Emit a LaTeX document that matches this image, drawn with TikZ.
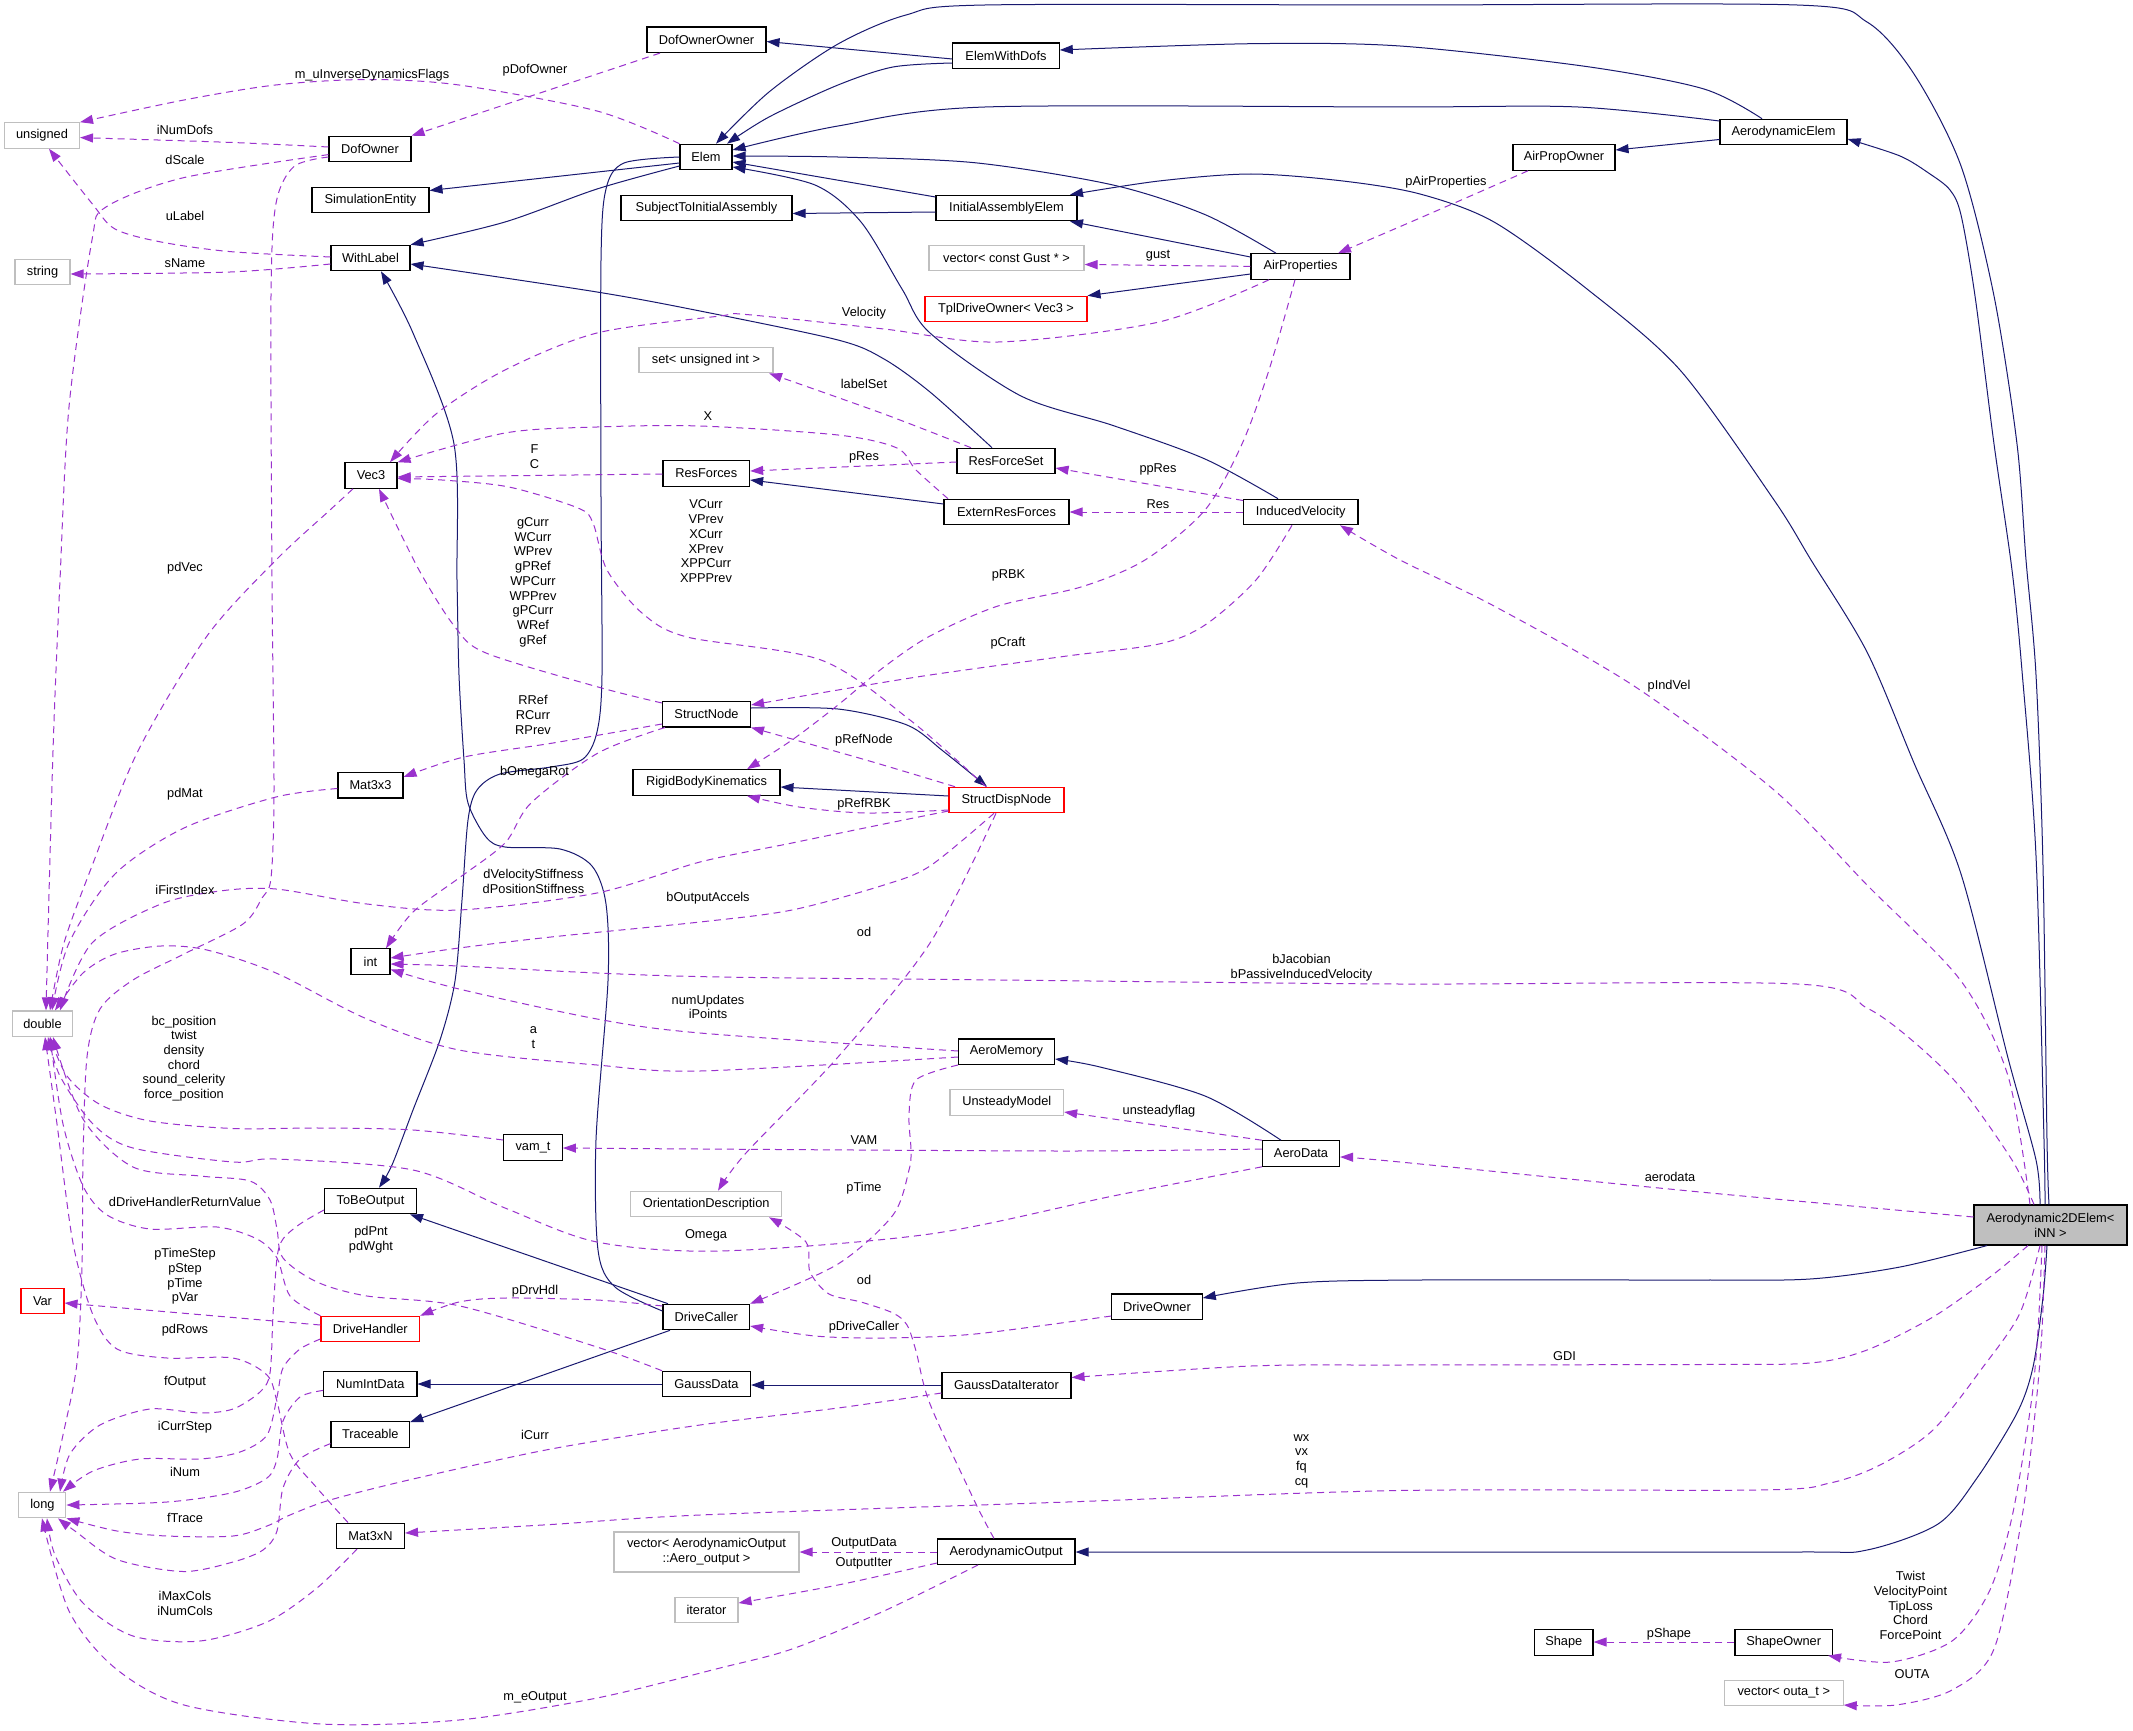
\documentclass[tikz,border=0pt]{standalone}
\usepackage{fontspec}
\setmainfont{Liberation Sans}
\usetikzlibrary{arrows.meta,calc}
\definecolor{edgeblue}{HTML}{191970}
\definecolor{edgepurple}{HTML}{9A32CD}
\definecolor{nodegray}{HTML}{BFBFBF}
\newcommand\lbfont{\fontsize{12.8}{14.7}\selectfont}
\tikzset{
 box/.style={draw=black, line width=1.1pt, fill=white, minimum height=25.5, inner sep=0pt, font=\lbfont, align=center},
 gbox/.style={box, draw=nodegray},
 rbox/.style={box, draw=red},
 inh/.style={draw=edgeblue, line width=1pt, -{Triangle[length=13pt,width=9pt]}},
 dep/.style={draw=edgepurple, line width=1pt, dash pattern=on 7pt off 5pt, -{Triangle[length=13pt,width=9pt]}},
 lbl/.style={font=\lbfont, align=center, inner sep=0pt},
}
\begin{document}
\begin{tikzpicture}[x=1pt,y=-1pt]
\fill[white] (0,0) rectangle (2133,1731);
\useasboundingbox (0,0) rectangle (2133,1731);
% ---------- nodes
\node[box, minimum width=119] (DofOwnerOwner) at (706.5,39.8) {DofOwnerOwner};
\node[box, minimum width=106.5] (ElemWithDofs) at (1006,55.8) {ElemWithDofs};
\node[box, minimum width=52] (Elem) at (706,157) {Elem};
\node[box, minimum width=127] (AerodynamicElem) at (1783.5,132) {AerodynamicElem};
\node[box, minimum width=102] (AirPropOwner) at (1564,157.5) {AirPropOwner};
\node[gbox, minimum width=75] (unsigned) at (42,135.5) {unsigned};
\node[box, minimum width=82] (DofOwner) at (370,149) {DofOwner};
\node[box, minimum width=117] (SimulationEntity) at (370.5,200) {SimulationEntity};
\node[box, minimum width=171] (SubjectToInitialAssembly) at (706.5,208) {SubjectToInitialAssembly};
\node[box, minimum width=141] (InitialAssemblyElem) at (1006.5,208) {InitialAssemblyElem};
\node[box, minimum width=79] (WithLabel) at (370.5,258) {WithLabel};
\node[gbox, minimum width=55] (string) at (42.5,272) {string};
\node[gbox, minimum width=155] (vgust) at (1006.5,258) {vector< const Gust * >};
\node[box, minimum width=99] (AirProperties) at (1300.5,266.5) {AirProperties};
\node[rbox, minimum width=162] (tpl) at (1006,309) {TplDriveOwner< Vec3 >};
\node[gbox, minimum width=134] (setui) at (706,360) {set< unsigned int >};
\node[box, minimum width=52] (Vec3) at (371,475.5) {Vec3};
\node[box, minimum width=86.6] (ResForces) at (706.3,473.5) {ResForces};
\node[box, minimum width=98] (ResForceSet) at (1006,461) {ResForceSet};
\node[box, minimum width=125] (ExternResForces) at (1006.5,512) {ExternResForces};
\node[box, minimum width=114.4] (InducedVelocity) at (1300.8,512) {InducedVelocity};
\node[box, minimum width=88] (StructNode) at (706.5,714.2) {StructNode};
\node[box, minimum width=65] (Mat3x3) at (370.5,785.2) {Mat3x3};
\node[box, minimum width=147] (RigidBodyKinematics) at (706.5,782.5) {RigidBodyKinematics};
\node[rbox, minimum width=115] (StructDispNode) at (1006.5,800) {StructDispNode};
\node[box, minimum width=39] (int) at (370.5,961.5) {int};
\node[gbox, minimum width=60] (double) at (42.5,1023.7) {double};
\node[box, minimum width=96] (AeroMemory) at (1006.5,1051.7) {AeroMemory};
\node[gbox, minimum width=113.6] (UnsteadyModel) at (1006.8,1102.5) {UnsteadyModel};
\node[box, minimum width=58.7] (vamt) at (533,1147.5) {vam\_t};
\node[box, minimum width=77] (AeroData) at (1301,1153.5) {AeroData};
\node[gbox, minimum width=151] (OrientationDescription) at (706.2,1204) {OrientationDescription};
\node[box, minimum width=92] (ToBeOutput) at (370.5,1201) {ToBeOutput};
\node[box, fill=nodegray, minimum width=153, minimum height=40] (Aero2D) at (2050.5,1225) {Aerodynamic2DElem<\\iNN >};
\node[rbox, minimum width=43] (Var) at (42.5,1301) {Var};
\node[rbox, minimum width=98.7] (DriveHandler) at (370.3,1329) {DriveHandler};
\node[box, minimum width=86.6] (DriveCaller) at (706.3,1317) {DriveCaller};
\node[box, minimum width=90.5] (DriveOwner) at (1157,1306.7) {DriveOwner};
\node[box, minimum width=93.3] (NumIntData) at (370.3,1384) {NumIntData};
\node[box, minimum width=88] (GaussData) at (706.5,1384) {GaussData};
\node[box, minimum width=129] (GaussDataIterator) at (1006.5,1385.4) {GaussDataIterator};
\node[box, minimum width=78.6] (Traceable) at (370.3,1434.4) {Traceable};
\node[gbox, minimum width=47] (long) at (42.4,1505) {long};
\node[box, minimum width=68] (Mat3xN) at (370.5,1535.8) {Mat3xN};
\node[gbox, minimum width=185, minimum height=40] (vaero) at (706.5,1552) {vector< AerodynamicOutput\\::Aero\_output >};
\node[box, minimum width=137.6] (AerodynamicOutput) at (1006.2,1551.7) {AerodynamicOutput};
\node[gbox, minimum width=63] (iterator) at (706.5,1610) {iterator};
\node[box, minimum width=58.4] (Shape) at (1563.8,1642.3) {Shape};
\node[box, minimum width=97.4] (ShapeOwner) at (1783.7,1642.3) {ShapeOwner};
\node[gbox, minimum width=118.8] (voutat) at (1783.8,1693) {vector< outa\_t >};
% ---------- solid (inheritance) edges
\draw[inh] (ElemWithDofs.west |- 0,59) -- (DofOwnerOwner.east |- 0,41.5);
\draw[inh] plot[smooth] coordinates {(ElemWithDofs.west |- 0,63) (893,67) (838,85) (769,117) (Elem.north -| 727,0)};
\draw[inh] plot[smooth] coordinates {(Aero2D.north -| 2049,0) (2047,1140) (2043,866) (2036,675) (2026,560) (2017,444) (1994,296) (1961,166) (1914,74) (1867,22) (1797,5) (1400,5) (985,5) (906,15) (838,44) (769,92) (Elem.north -| 716,0)};
\draw[inh] plot[smooth] coordinates {(Aero2D.north -| 2045,0) (2044,1140) (2036,856) (2022,671) (2012,570) (1994,444) (1975,296) (1961,215) (1950,190) (1930,174) (1900,156) (AerodynamicElem.east |- 0,139)};
\draw[inh] (AerodynamicElem.west |- 0,139.5) -- (AirPropOwner.east |- 0,150);
\draw[inh] plot[smooth] coordinates {(AerodynamicElem.north -| 1762,0) (1704,89) (1587,66.6) (1400,46) (1251,43.7) (ElemWithDofs.east |- 0,50)};
\draw[inh] plot[smooth] coordinates {(AerodynamicElem.west |- 0,121) (1578,107) (1400,107) (985,107) (838,126) (Elem.east |- 0,150)};
\draw[inh] (InitialAssemblyElem.west |- 0,197) -- (Elem.east |- 0,162);
\draw[inh] (InitialAssemblyElem.west |- 0,212) -- (SubjectToInitialAssembly.east |- 0,213.5);
\draw[inh] (AirProperties.west |- 0,257) -- (InitialAssemblyElem.south -| 1070,0);
\draw[inh] plot[smooth] coordinates {(AirProperties.north -| 1276,0) (1205,214.6) (1113,185) (975.5,162.8) (837.7,157) (Elem.east |- 0,156)};
\draw[inh] plot[smooth] coordinates {(Aero2D.north -| 2040,0) (2036,1160) (2008,1058) (1961,874) (1914,763) (1867,652) (1811,560) (1774,500) (1680,370) (1587,289) (1494,222) (1420,194) (1343,181) (1251,174) (1159,181) (InitialAssemblyElem.north -| 1070,0)};
\draw[inh] (AirProperties.west |- 0,274) -- (tpl.north east);
\draw[inh] plot[smooth] coordinates {(InducedVelocity.north -| 1278,0) (1205,459) (1113,425.5) (1021,396) (930,333) (902,289) (861,222) (815,185) (Elem.east |- 0,167)};
\draw[inh] plot[smooth] coordinates {(ResForceSet.north -| 992,0) (930,392) (884,359) (838,340) (700,311) (597,292) (WithLabel.east |- 0,264)};
\draw[inh] (Elem.west |- 0,163) -- (SimulationEntity.east |- 0,190.5);
\draw[inh] plot[smooth] coordinates {(Elem.west |- 0,166) (597,189) (505,222) (WithLabel.north east)};
\draw[inh] plot[smooth] coordinates {(Elem.west |- 0,157) (624,163) (606,189) (601,260) (601,500) (602,675) (597,732) (583,759) (551,767) (500,774) (477,790) (468,820) (462,900) (455,981) (440,1040) (413,1110) (392,1165) (ToBeOutput.north -| 379,0)};
\draw[inh] plot[smooth] coordinates {(DriveCaller.west |- 0,1311) (615,1287) (598,1250) (596,1140) (608,981) (606,904) (592,866) (560,849) (505,847) (486,837) (468,803) (464,760) (459,675) (457,580) (454,444) (413,333) (WithLabel.south -| 381,0)};
\draw[inh] (ExternResForces.west |- 0,504) -- (ResForces.east |- 0,480);
\draw[inh] plot[smooth] coordinates {(StructNode.east |- 0,708) (838,709) (907,725) (943,751) (StructDispNode.north -| 987,0)};
\draw[inh] (StructDispNode.west |- 0,796) -- (RigidBodyKinematics.east |- 0,787);
\draw[inh] plot[smooth] coordinates {(AeroData.north -| 1281,0) (1205,1096) (1100,1067) (AeroMemory.east |- 0,1059)};
\draw[inh] (DriveCaller.north -| 668,0) -- (ToBeOutput.south -| 410,0);
\draw[inh] (DriveCaller.south -| 670,0) -- (Traceable.east |- 0,1422);
\draw[inh] (GaussData.west |- 0,1384) -- (NumIntData.east |- 0,1384);
\draw[inh] (GaussDataIterator.west |- 0,1385) -- (GaussData.east |- 0,1385);
\draw[inh] plot[smooth] coordinates {(Aero2D.south -| 1987,0) (1900,1267) (1810,1279) (1700,1280) (1420,1280) (1297,1283) (DriveOwner.east |- 0,1298)};
\draw[inh] plot[smooth] coordinates {(Aero2D.south -| 2047,0) (2043,1297) (2033,1367) (2017,1413) (1977,1478) (1938,1524) (1867,1550) (1797,1552) (1400,1552) (AerodynamicOutput.east |- 0,1552)};
% ---------- dashed (usage) edges
\draw[dep] plot[smooth] coordinates {(Elem.north west) (597,111) (459,85) (367,79.5) (275.5,85) (184,100) (unsigned.north east)};
\draw[dep] (DofOwnerOwner.south -| 660,0) -- (DofOwner.north east);
\draw[dep] plot[smooth] coordinates {(DofOwner.west |- 0,147) (230,142.4) (unsigned.east |- 0,137.6)};
\draw[dep] plot[smooth] coordinates {(DofOwner.west |- 0,154.6) (184,177.6) (106,207) (92,240) (69,407) (60,580) (53,751) (double.north -| 46,0)};
\draw[dep] plot[smooth] coordinates {(DofOwner.west |- 0,157) (294,166.5) (276,203.5) (271,296) (272,580) (274,790) (271,878) (262,898) (243,924) (184,954) (133,980) (100,1009) (87,1057) (83,1160) (82,1267) (77,1363) (63,1435) (long.north -| 50,0)};
\draw[dep] plot[smooth] coordinates {(WithLabel.west |- 0,257) (230,251.6) (161,242) (115,229) (92,203.5) (unsigned.south -| 49,0)};
\draw[dep] plot[smooth] coordinates {(WithLabel.west |- 0,264) (230,272) (string.east |- 0,274)};
\draw[dep] (AirProperties.west |- 0,266.4) -- (vgust.east |- 0,264.5);
\draw[dep] plot[smooth] coordinates {(AirProperties.south -| 1269,0) (1159,322) (998,342) (884,329) (746,314.5) (720,316) (597,333) (505,370) (436,414) (Vec3.north -| 390,0)};
\draw[dep] plot[smooth] coordinates {(ResForceSet.north -| 971,0) (884,414) (setui.south -| 769,0)};
\draw[dep] plot[smooth] coordinates {(ExternResForces.north -| 948,0) (916,470) (897,448) (838,435) (700,426) (597,427) (505,433) (Vec3.north east)};
\draw[dep] (ResForces.west |- 0,474) -- (Vec3.east |- 0,477);
\draw[dep] (ResForceSet.west |- 0,462) -- (ResForces.east |- 0,471);
\draw[dep] (InducedVelocity.west |- 0,500.5) -- (ResForceSet.east |- 0,468);
\draw[dep] (InducedVelocity.west |- 0,512) -- (ExternResForces.east |- 0,512);
\draw[dep] plot[smooth] coordinates {(AirProperties.south -| 1295,0) (1269,370) (1242,444) (1205,510) (1145,560) (1081,587) (998,606) (930,636) (884,667) (838,705) (792,740) (RigidBodyKinematics.north -| 747,0)};
\draw[dep] plot[smooth] coordinates {(InducedVelocity.south -| 1292,0) (1256,580) (1205,625) (1159,644) (1067,656) (930,675) (838,690) (StructNode.east |- 0,705)};
\draw[dep] plot[smooth] coordinates {(Aero2D.north -| 2030,0) (2008,1076) (1961,981) (1867,885) (1774,790) (1634,686) (1494,606) (1400,560) (InducedVelocity.south -| 1340,0)};
\draw[dep] plot[smooth] coordinates {(Aero2D.north -| 2034,0) (2012,1160) (1961,1088) (1914,1042) (1867,1008) (1797,984) (1400,984) (1000,980) (720,977) (597,973) (459,966) (int.east |- 0,964)};
\draw[dep] plot[smooth] coordinates {(StructNode.west |- 0,703) (598,687) (486,653) (455,627) (419,570) (Vec3.south -| 379,0)};
\draw[dep] plot[smooth] coordinates {(StructDispNode.north -| 986,0) (910,720) (821,660) (687,637) (642,613) (607,570) (593,523) (578,508) (509,487) (442,480) (Vec3.east |- 0,478.5)};
\draw[dep] plot[smooth] coordinates {(StructNode.west |- 0,724) (553,743) (464,757) (Mat3x3.east |- 0,777)};
\draw[dep] plot[smooth] coordinates {(StructNode.south -| 665,0) (598,753) (531,803) (505,843) (459,878) (413,912) (int.north -| 386,0)};
\draw[dep] plot[smooth] coordinates {(StructDispNode.north -| 955,0) (866,760) (StructNode.south east)};
\draw[dep] plot[smooth] coordinates {(StructDispNode.west |- 0,810) (866,813) (799,807) (RigidBodyKinematics.south -| 747,0)};
\draw[dep] plot[smooth] coordinates {(StructDispNode.west |- 0,811) (884,824) (792,843) (700,862) (597,893) (459,910) (367,904) (276,889) (220,891) (161,904) (92,943) (double.north -| 60,0)};
\draw[dep] plot[smooth] coordinates {(StructDispNode.south -| 994,0) (930,866) (884,885) (792,910) (700,922) (551,937) (459,948) (int.east |- 0,958)};
\draw[dep] plot[smooth] coordinates {(StructDispNode.south -| 996,0) (930,943) (838,1057) (746,1153) (OrientationDescription.north -| 718,0)};
\draw[dep] plot[smooth] coordinates {(AeroMemory.west |- 0,1051) (700,1033) (597,1019) (459,989) (int.east |- 0,969.5)};
\draw[dep] plot[smooth] coordinates {(AeroMemory.west |- 0,1057) (700,1071) (597,1065) (459,1050) (367,1019) (276,973) (207,950) (161,946) (115,954) (83,973) (double.north -| 55,0)};
\draw[dep] plot[smooth] coordinates {(AeroMemory.south west) (916,1080) (909,1115) (911,1150) (909,1170) (893,1215) (838,1264) (DriveCaller.north east)};
\draw[dep] plot[smooth] coordinates {(AeroData.west |- 0,1149) (1067,1151) (700,1149) (vamt.east |- 0,1148)};
\draw[dep] (AeroData.north west) -- (UnsteadyModel.east |- 0,1112);
\draw[dep] plot[smooth] coordinates {(AeroData.south west) (1113,1196) (930,1234) (720,1251) (597,1242) (505,1208) (413,1170) (276,1159) (233,1162) (133,1148) (93,1124) (60,1076) (double.south -| 48,0)};
\draw[dep] plot[smooth] coordinates {(Aero2D.west |- 0,1217) (1700,1192) (1400,1162) (AeroData.east |- 0,1157)};
\draw[dep] plot[smooth] coordinates {(DriveCaller.west |- 0,1306) (597,1300) (505,1298) (459,1302) (DriveHandler.north east)};
\draw[dep] plot[smooth] coordinates {(GaussData.north west) (597,1347) (460,1306) (367,1296) (317,1282) (283,1258) (277,1229) (270,1200) (250,1181) (200,1176) (133,1167) (83,1119) (double.south -| 53,0)};
\draw[dep] plot[smooth] coordinates {(DriveHandler.north west) (290,1296) (277,1258) (257,1239) (217,1227) (150,1229) (107,1215) (83,1186) (63,1124) (double.south -| 50,0)};
\draw[dep] (DriveHandler.west |- 0,1325) -- (Var.east |- 0,1303);
\draw[dep] plot[smooth] coordinates {(Mat3xN.north -| 348,0) (317,1488) (290,1454) (277,1401.5) (267,1375) (233,1358) (167,1358) (117,1349) (93,1315) (73,1243) (57,1124) (double.south -| 45,0)};
\draw[dep] plot[smooth] coordinates {(ToBeOutput.west |- 0,1210) (300,1224) (283,1239) (277,1258) (273,1315) (270,1373) (260,1392) (233,1409) (200,1413) (150,1409) (100,1425) (70,1454) (long.north -| 60,0)};
\draw[dep] plot[smooth] coordinates {(DriveHandler.west |- 0,1339) (300,1349) (283,1368) (277,1397) (267,1435) (240,1452) (200,1459) (140,1459) (93,1471) (long.north -| 63,0)};
\draw[dep] plot[smooth] coordinates {(NumIntData.west |- 0,1390.4) (300,1397) (283,1421) (277,1459) (267,1478) (233,1492.5) (167,1502) (long.east |- 0,1505)};
\draw[dep] plot[smooth] coordinates {(Traceable.west |- 0,1443.6) (300,1459) (283,1488) (277,1531) (263,1550) (233,1562) (183,1571.5) (117,1559.5) (75,1531) (long.south -| 58,0)};
\draw[dep] plot[smooth] coordinates {(GaussDataIterator.west |- 0,1393) (838,1408) (700,1425) (551,1449) (413,1479) (330,1500) (290,1515) (267,1526) (233,1536) (167,1536) (117,1531) (long.south east)};
\draw[dep] plot[smooth] coordinates {(Mat3xN.south -| 357,0) (317,1588) (267,1622) (200,1641) (133,1636) (83,1603) (55,1555) (long.south -| 47,0)};
\draw[dep] plot[smooth] coordinates {(AerodynamicOutput.south -| 978,0) (884,1611) (792,1649) (720,1668) (597,1698) (459,1720) (321,1724) (184,1705) (115,1668) (69,1611) (long.south -| 42,0)};
\draw[dep] plot[smooth] coordinates {(AerodynamicOutput.north -| 994,0) (975,1502) (930,1404) (916,1351) (907,1325) (893,1313) (861,1302) (829,1294) (810,1272) (806,1242) (OrientationDescription.south -| 769,0)};
\draw[dep] plot[smooth] coordinates {(DriveOwner.west |- 0,1316) (975,1334) (884,1338) (815,1336) (DriveCaller.east |- 0,1326)};
\draw[dep] plot[smooth] coordinates {(Aero2D.south -| 2028,0) (1990,1277) (1933,1317) (1867,1350) (1810,1363) (1700,1364.5) (1400,1365) (1251,1366) (GaussDataIterator.east |- 0,1377.5)};
\draw[dep] plot[smooth] coordinates {(Aero2D.south -| 2040,0) (2020,1313) (1983,1367) (1933,1430) (1880,1465) (1830,1483) (1760,1490) (1400,1490.5) (1067,1502) (700,1515) (551,1524.5) (Mat3xN.east |- 0,1533)};
\draw[dep] (AerodynamicOutput.west |- 0,1552) -- (vaero.east |- 0,1552);
\draw[dep] plot[smooth] coordinates {(AerodynamicOutput.west |- 0,1563) (838,1585) (iterator.east |- 0,1603)};
\draw[dep] (ShapeOwner.west |- 0,1642) -- (Shape.east |- 0,1642);
\draw[dep] plot[smooth] coordinates {(Aero2D.south -| 2042,0) (2038,1330) (2031,1404) (2012,1517) (1989,1592) (1952,1641) (1891,1662) (ShapeOwner.south -| 1828,0)};
\draw[dep] plot[smooth] coordinates {(Aero2D.south -| 2045,0) (2042,1330) (2036,1404) (2022,1517) (1994,1649) (1952,1690) (1896,1705) (voutat.east |- 0,1705)};
\draw[dep] plot[smooth] coordinates {(AirPropOwner.south -| 1528,0) (1420,218) (AirProperties.north -| 1338,0)};
\draw[dep] plot[smooth] coordinates {(Vec3.south -| 353,0) (330,510) (276,560) (207,636) (138,751) (92,866) (64,943) (double.north -| 50,0)};
\draw[dep] plot[smooth] coordinates {(Mat3x3.west |- 0,788.5) (276,797) (184,828) (115,874) (69,943) (double.north -| 52,0)};
\draw[dep] plot[smooth] coordinates {(vamt.west |- 0,1140) (413,1130) (321,1128) (233,1128.5) (150,1121) (100,1104.5) (67,1076) (double.south -| 50,0)};
% ---------- labels
\node[lbl] (l1) at (372,75) {m\_uInverseDynamicsFlags};
\node[lbl] (l2) at (535,70) {pDofOwner};
\node[lbl] (l3) at (185,130) {iNumDofs};
\node[lbl] (l4) at (185,160) {dScale};
\node[lbl] (l5) at (185,216) {uLabel};
\node[lbl] (l6) at (185,263) {sName};
\node[lbl] (l7) at (1446,182) {pAirProperties};
\node[lbl] (l8) at (1158,256) {gust};
\node[lbl] (l9) at (864,313) {Velocity};
\node[lbl] (l10) at (864,384) {labelSet};
\node[lbl] (l11) at (708,416) {X};
\node[lbl] (l12) at (534.5,457) {F\\C};
\node[lbl] (l13) at (864,457) {pRes};
\node[lbl] (l14) at (1158,469) {ppRes};
\node[lbl] (l15) at (1158,504) {Res};
\node[lbl] (l16) at (706,541.3) {VCurr\\VPrev\\XCurr\\XPrev\\XPPCurr\\XPPPrev};
\node[lbl] (l17) at (533,582.2) {gCurr\\WCurr\\WPrev\\gPRef\\WPCurr\\WPPrev\\gPCurr\\WRef\\gRef};
\node[lbl] (l18) at (1008.5,575) {pRBK};
\node[lbl] (l19) at (185,568) {pdVec};
\node[lbl] (l20) at (1008,643) {pCraft};
\node[lbl] (l21) at (1669,686) {pIndVel};
\node[lbl] (l22) at (533,715) {RRef\\RCurr\\RPrev};
\node[lbl] (l23) at (864,740) {pRefNode};
\node[lbl] (l24) at (534.5,772) {bOmegaRot};
\node[lbl] (l25) at (185,794) {pdMat};
\node[lbl] (l26) at (864,804) {pRefRBK};
\node[lbl] (l27) at (533.5,881.5) {dVelocityStiffness\\dPositionStiffness};
\node[lbl] (l28) at (185,890) {iFirstIndex};
\node[lbl] (l29) at (708,898) {bOutputAccels};
\node[lbl] (l30) at (864,932) {od};
\node[lbl] (l31) at (1301.5,968) {bJacobian\\bPassiveInducedVelocity};
\node[lbl] (l32) at (708,1007) {numUpdates\\iPoints};
\node[lbl] (l33) at (533.5,1037.4) {a\\t};
\node[lbl] (l34) at (184,1058.5) {bc\_position\\twist\\density\\chord\\sound\_celerity\\force\_position};
\node[lbl] (l35) at (1159,1111) {unsteadyflag};
\node[lbl] (l36) at (864,1140.5) {VAM};
\node[lbl] (l37) at (1670,1177) {aerodata};
\node[lbl] (l38) at (864,1188) {pTime};
\node[lbl] (l39) at (185,1202) {dDriveHandlerReturnValue};
\node[lbl] (l40) at (706,1235) {Omega};
\node[lbl] (l41) at (371,1240) {pdPnt\\pdWght};
\node[lbl] (l42) at (185,1276.5) {pTimeStep\\pStep\\pTime\\pVar};
\node[lbl] (l43) at (864,1279.5) {od};
\node[lbl] (l44) at (535,1291) {pDrvHdl};
\node[lbl] (l45) at (864,1327) {pDriveCaller};
\node[lbl] (l46) at (185,1330.6) {pdRows};
\node[lbl] (l47) at (1564.6,1356) {GDI};
\node[lbl] (l48) at (185,1382) {fOutput};
\node[lbl] (l49) at (185,1427) {iCurrStep};
\node[lbl] (l50) at (535,1435) {iCurr};
\node[lbl] (l51) at (1301.5,1461) {wx\\vx\\fq\\cq};
\node[lbl] (l52) at (185,1472) {iNum};
\node[lbl] (l53) at (185,1518) {fTrace};
\node[lbl] (l54) at (864,1543) {OutputData};
\node[lbl] (l55) at (864,1563) {OutputIter};
\node[lbl] (l56) at (185,1603.5) {iMaxCols\\iNumCols};
\node[lbl] (l57) at (1910.5,1605.5) {Twist\\VelocityPoint\\TipLoss\\Chord\\ForcePoint};
\node[lbl] (l58) at (1669,1634) {pShape};
\node[lbl] (l59) at (1912,1674) {OUTA};
\node[lbl] (l60) at (535,1697) {m\_eOutput};
\end{tikzpicture}
\end{document}
